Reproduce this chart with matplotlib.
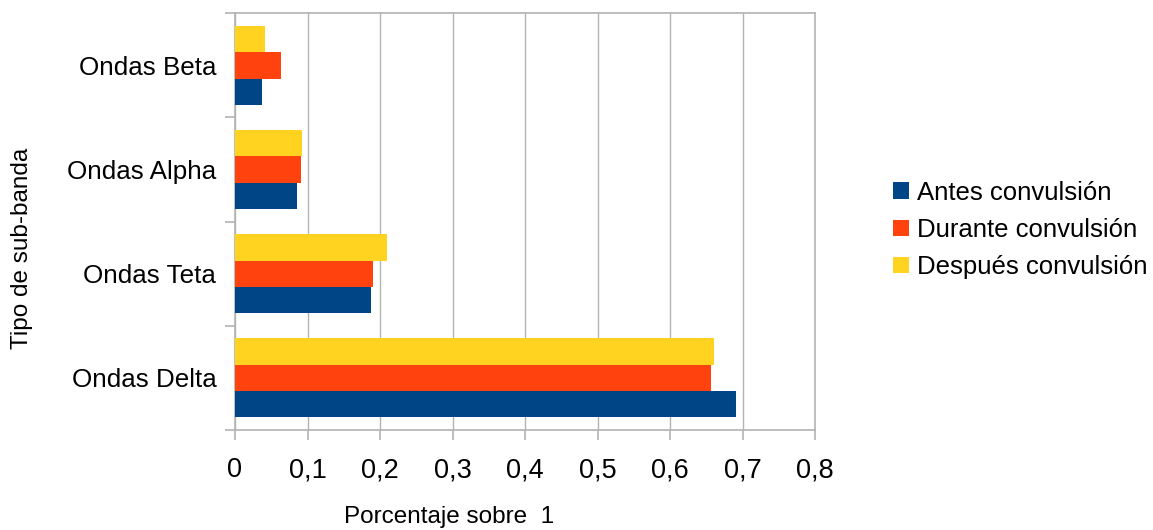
import matplotlib
matplotlib.use("Agg")
import matplotlib.pyplot as plt
import numpy as np
from matplotlib.patches import Patch

plt.rcParams['font.family'] = ['Liberation Sans', 'DejaVu Sans']

categories = ["Ondas Delta", "Ondas Teta", "Ondas Alpha", "Ondas Beta"]
series_names = ["Antes convulsión", "Durante convulsión", "Después convulsión"]
antes = [0.691, 0.188, 0.085, 0.037]
durante = [0.657, 0.190, 0.091, 0.063]
despues = [0.660, 0.209, 0.092, 0.041]
colors = ["#004586", "#ff420e", "#ffd320"]
xticks = [0, 0.1, 0.2, 0.3, 0.4, 0.5, 0.6, 0.7, 0.8]
xticklabels = ["0", "0,1", "0,2", "0,3", "0,4", "0,5", "0,6", "0,7", "0,8"]

fig = plt.figure(figsize=(11.53, 5.30), dpi=100)
ax = fig.add_axes([235/1153, 1-430/530, (815-235)/1153, (430-13.3)/530])

y = np.arange(len(categories))
h = 0.253
for i, (vals, c) in enumerate(zip([antes, durante, despues], colors)):
    ax.barh(y + (i - 1) * h, vals, height=h, color=c, zorder=3)

ax.set_xlim(0, 0.8)
ax.set_ylim(-0.5, len(categories) - 0.5)
ax.set_xticks(xticks)
ax.set_xticklabels(xticklabels, fontsize=19.5)
ax.set_yticks(y)
ax.set_yticklabels(categories, fontsize=18.7)
ax.set_yticks(np.arange(-0.5, len(categories), 1), minor=True)
ax.tick_params(axis='y', which='major', length=0, pad=13.5)
ax.tick_params(axis='y', which='minor', length=7.2, color='#b3b3b3', width=1.2)
ax.tick_params(axis='x', which='major', length=7.2, color='#b3b3b3', width=1.2, pad=12.5)
ax.grid(axis='x', color='#b3b3b3', linewidth=1, zorder=0)
for s in ax.spines.values():
    s.set_color('#b3b3b3')
    s.set_linewidth(1.2)

fig.text(449/1153, 1-517/530, "Porcentaje sobre  1", fontsize=17.5, ha='center', va='center')
fig.text(22/1153, 1-248/530, "Tipo de sub-banda", fontsize=17.5, ha='center', va='center', rotation=90)

handles = [Patch(facecolor=c, edgecolor='none') for c in colors]
fig.legend(handles, series_names, loc='center left', bbox_to_anchor=(893/1153, 1-230/530),
           frameon=False, fontsize=18.5, handlelength=0.62, handleheight=0.6,
           handletextpad=0.3, labelspacing=0.52, borderpad=0, borderaxespad=0)

fig.savefig("out.png", dpi=100)
